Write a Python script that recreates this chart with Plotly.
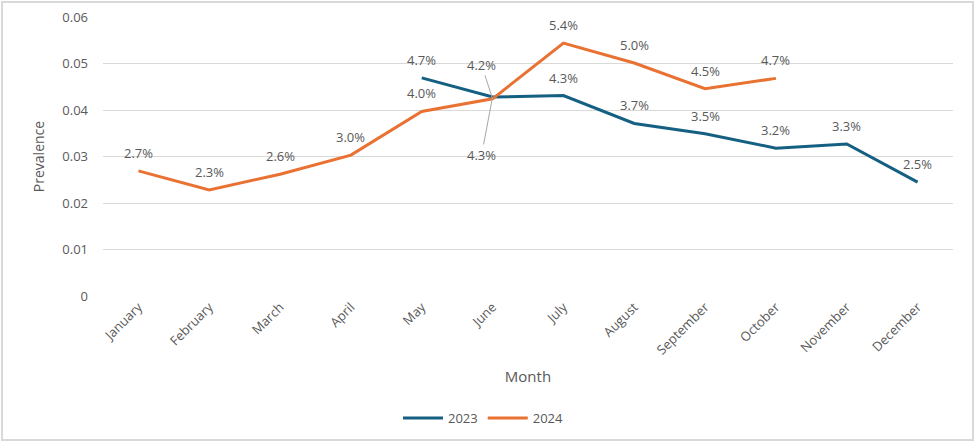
import plotly.graph_objects as go

months = ["January", "February", "March", "April", "May", "June", "July",
          "August", "September", "October", "November", "December"]
y2023 = [None, None, None, None, 0.0469, 0.0428, 0.0431, 0.0371, 0.0349, 0.0318, 0.0327, 0.0245]
y2024 = [0.0269, 0.0228, 0.0262, 0.0303, 0.0397, 0.0424, 0.0544, 0.0501, 0.0446, 0.0468, None, None]
y_ticks = [0, 0.01, 0.02, 0.03, 0.04, 0.05, 0.06]

c2023 = "#156082"
c2024 = "#E97132"
txt = "#595959"
font = "Open Sans"

fig = go.Figure()
fig.add_trace(go.Scatter(x=months, y=y2023, mode="lines", name="2023",
                         line=dict(color=c2023, width=3), connectgaps=False))
fig.add_trace(go.Scatter(x=months, y=y2024, mode="lines", name="2024",
                         line=dict(color=c2024, width=3), connectgaps=False))

annotations = []
for series in (y2023, y2024):
    for m, v in zip(months, series):
        if v is None or m == "June":
            continue
        annotations.append(dict(x=m, y=v, text=f"{v*100:.1f}%", showarrow=False,
                                yshift=18, font=dict(size=13, color=txt, family=font)))
# June labels with leader lines
j = months.index("June")
annotations.append(dict(x="June", y=y2024[j], text=f"{y2024[j]*100:.1f}%", showarrow=True,
                        arrowhead=0, arrowwidth=1, arrowcolor="#a6a6a6", ax=-11, ay=-34,
                        font=dict(size=13, color=txt, family=font)))
annotations.append(dict(x="June", y=y2023[j], text=f"{y2023[j]*100:.1f}%", showarrow=True,
                        arrowhead=0, arrowwidth=1, arrowcolor="#a6a6a6", ax=-11, ay=58,
                        font=dict(size=13, color=txt, family=font)))

fig.update_layout(
    width=975, height=442,
    margin=dict(l=103, r=22, t=17, b=146, autoexpand=False),
    paper_bgcolor="white", plot_bgcolor="white",
    font=dict(family=font, color=txt, size=13),
    showlegend=True,
    legend=dict(orientation="h", x=(398 - 103) / 850, xanchor="left", yref="container",
                y=(442 - 418) / 442, yanchor="middle",
                font=dict(size=13, color=txt, family=font), traceorder="normal",
                itemwidth=40),
    annotations=annotations,
    shapes=[dict(type="rect", xref="paper", yref="paper",
                 x0=(2 - 103) / 850, x1=(973 - 103) / 850,
                 y0=(296 - 440) / 279, y1=(296 - 2) / 279,
                 line=dict(color="#d9d9d9", width=2), layer="below")],
)
fig.update_xaxes(tickangle=-45, showgrid=False, showline=False, ticks="",
                 range=[-0.5, len(months) - 0.5],
                 tickfont=dict(size=13, color=txt, family=font), automargin=False,
                 title=dict(text="Month", font=dict(size=15, color=txt, family=font), standoff=14))
fig.update_yaxes(range=[0, 0.06], tickvals=y_ticks, ticktext=[str(t) if t else "0" for t in y_ticks],
                 showgrid=True, gridcolor="#d9d9d9", gridwidth=1, zeroline=False,
                 showline=False, ticks="", ticklabelstandoff=14, automargin=False,
                 tickfont=dict(size=13, color=txt, family=font),
                 title=dict(text="Prevalence", font=dict(size=14, color=txt, family=font), standoff=14))

fig.write_html("out.html", config={"displayModeBar": False},
               post_script="document.body.style.margin='0';document.body.style.overflow='hidden';")
